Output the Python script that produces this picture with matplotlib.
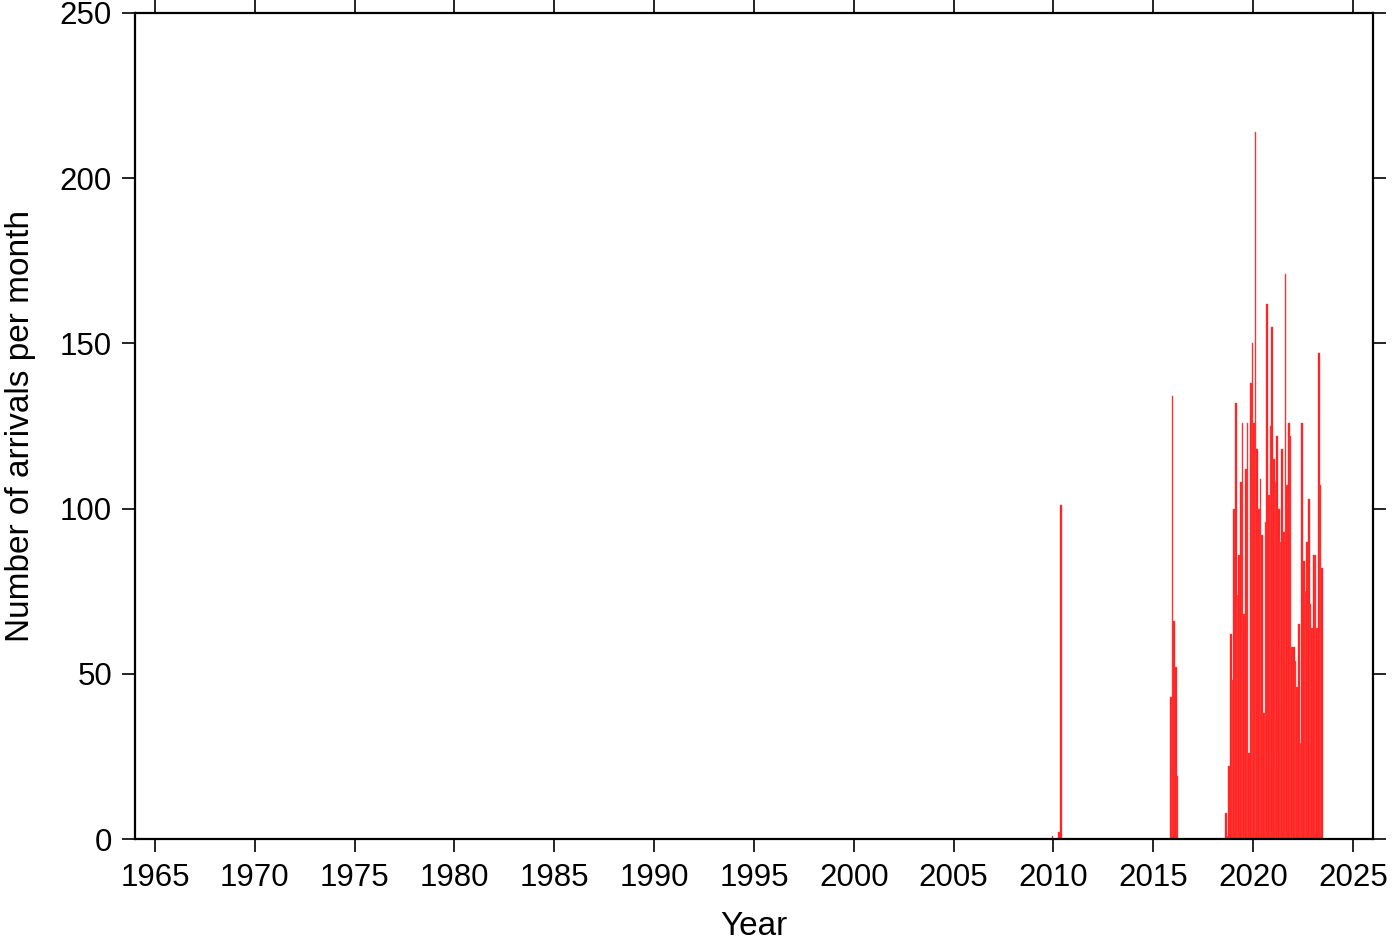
import numpy as np
import matplotlib
matplotlib.use("Agg")
import matplotlib.pyplot as plt

plt.rcParams['font.family'] = ['Liberation Sans', 'DejaVu Sans']

# Monthly arrival counts: (year, month, count)
early_years = [2009, 2010, 2010]
early_months = [12, 4, 5]
early_counts = [1, 2, 101]

mid_years = [2015, 2015, 2016, 2016, 2016]
mid_months = [11, 12, 1, 2, 3]
mid_counts = [43, 134, 66, 52, 19]

# Aug 2018 .. Jun 2023
late_start = (2018, 8)
late_counts = [8, 1, 22, 62, 48,
               100, 132, 74, 86, 108, 126, 68, 112, 126, 26, 138, 150,
               126, 214, 118, 100, 109, 92, 38, 96, 162, 104, 125, 155,
               115, 108, 122, 100, 90, 118, 93, 171, 107, 126, 122, 58,
               58, 54, 46, 65, 29, 126, 84, 75, 90, 103, 71, 64,
               86, 86, 64, 147, 107, 82]

years = list(early_years) + list(mid_years)
months = list(early_months) + list(mid_months)
counts = list(early_counts) + list(mid_counts)
y0, m0 = late_start
for i, c in enumerate(late_counts):
    mm = m0 - 1 + i
    years.append(y0 + mm // 12)
    months.append(mm % 12 + 1)
    counts.append(c)

t = np.array(years) + (np.array(months) - 1) / 12.0

fig = plt.figure(figsize=(14, 9.42), dpi=100)
ax = fig.add_axes([0.0964, 0.1093, 0.8843, 0.8769])

ax.bar(t, counts, width=1/12, align='edge', color='#ff1a1a',
       edgecolor='#ff5050', linewidth=0.3)

ax.set_xlim(1964, 2026)
ax.set_ylim(0, 250)
ax.set_xticks(np.arange(1965, 2026, 5))
ax.set_yticks(np.arange(0, 251, 50))

for s in ax.spines.values():
    s.set_linewidth(1.6)
ax.tick_params(axis='both', which='major', direction='out', length=9.5,
               width=1.2, labelsize=22.5, top=True, right=True,
               labeltop=False, labelright=False)
ax.tick_params(axis='x', pad=8)
ax.tick_params(axis='y', pad=7)

ax.set_xlabel('Year', fontsize=24, labelpad=13)
ax.set_ylabel('Number of arrivals per month', fontsize=24, labelpad=17)

fig.savefig('out.png', dpi=100)
